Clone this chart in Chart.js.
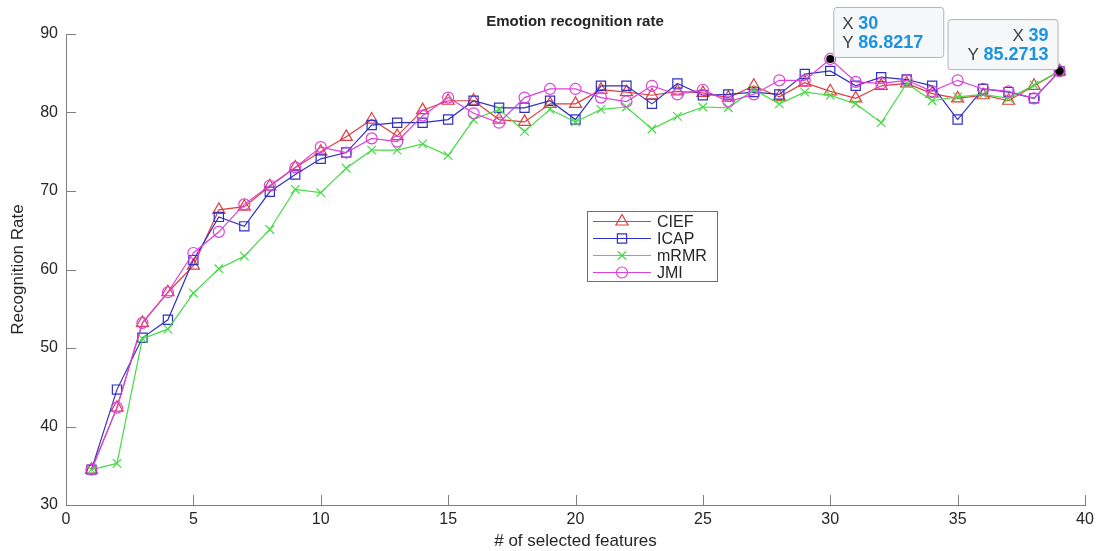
<!DOCTYPE html>
<html>
<head>
<meta charset="utf-8">
<title>Emotion recognition rate</title>
<script src="https://cdn.jsdelivr.net/npm/chart.js@4"></script>
<style>
    html, body { margin: 0; padding: 0; background: #fff; }
    #wrap { width: 1104px; height: 551px; }
</style>
</head>
<body>
<div id="wrap"><canvas id="rateChart" width="1104" height="551"></canvas></div>
<script>
// number of selected features (x) and recognition rate per method (y)
const featureCounts = [1, 2, 3, 4, 5, 6, 7, 8, 9, 10, 11, 12, 13, 14, 15, 16, 17, 18, 19, 20,
    21, 22, 23, 24, 25, 26, 27, 28, 29, 30, 31, 32, 33, 34, 35, 36, 37, 38, 39];
const ciefRates = [34.5, 42.4, 53.2, 57.1, 60.5, 67.6, 68.0, 70.6, 73.0, 75.0, 76.9, 79.1, 77.0, 80.3, 81.5, 81.5, 79.1, 78.8, 81.1, 81.1,
    82.9, 82.6, 82.2, 82.7, 82.5, 81.9, 83.4, 82.0, 83.8, 82.7, 81.8, 83.4, 83.7, 82.4, 81.8, 82.2, 81.5, 83.4, 85.2713];
const icapRates = [34.5, 44.7, 51.3, 53.6, 61.2, 66.7, 65.5, 69.9, 72.1, 74.1, 74.9, 78.4, 78.7, 78.7, 79.1, 81.5, 80.6, 80.6, 81.5, 79.1,
    83.4, 83.4, 81.1, 83.7, 82.2, 82.3, 82.6, 82.3, 84.9, 85.3, 83.4, 84.5, 84.2, 83.4, 79.1, 83.0, 82.6, 81.8, 85.2713];
const mrmrRates = [34.5, 35.3, 51.2, 52.4, 57.0, 60.1, 61.7, 65.1, 70.2, 69.8, 72.9, 75.2, 75.2, 76.0, 74.5, 79.1, 80.4, 77.6, 80.4, 78.8,
    80.4, 80.7, 77.9, 79.5, 80.7, 80.6, 82.9, 81.1, 82.6, 82.2, 81.1, 78.7, 83.7, 81.5, 82.0, 82.3, 81.8, 83.5, 85.2713];
const jmiRates = [34.5, 42.4, 53.2, 57.1, 62.1, 64.8, 68.3, 70.7, 73.0, 75.6, 74.9, 76.7, 76.3, 79.6, 81.9, 79.9, 78.7, 81.9, 83.0, 83.0,
    81.9, 81.4, 83.4, 82.3, 82.9, 81.4, 82.3, 84.1, 84.1, 86.8217, 83.9, 83.7, 84.1, 82.7, 84.1, 83.0, 82.7, 81.8, 85.2713];

const methodNames = ['CIEF', 'ICAP', 'mRMR', 'JMI'];
const xTicks = [0, 5, 10, 15, 20, 25, 30, 35, 40];
const yTicks = [30, 40, 50, 60, 70, 80, 90];

// data tips pinned on the plot: [x, y]
const dataTips = [[30, 86.8217], [39, 85.2713]];

const FONT = '"Liberation Sans", Arial, sans-serif';
const TEXT = '#262626';
const AXIS = '#7f7f7f';

const styles = [
    { color: '#e23c3c', marker: 'triangle', radius: 7 },
    { color: '#3030c4', marker: 'rect', radius: 6.5 },
    { color: '#45dc45', marker: 'crossRot', radius: 6 },
    { color: '#dd40dd', marker: 'circle', radius: 5.5 }
];
const seriesValues = [ciefRates, icapRates, mrmrRates, jmiRates];

function toPoints(values) {
    return featureCounts.map((x, i) => ({ x: x, y: values[i] }));
}

// small marker painter for the legend box
function drawMarker(ctx, style, x, y, r) {
    ctx.beginPath();
    if (style === 'triangle') {
        const h = r * 0.5;
        ctx.moveTo(x, y - r);
        ctx.lineTo(x + r * 0.866, y + h);
        ctx.lineTo(x - r * 0.866, y + h);
        ctx.closePath();
    } else if (style === 'rect') {
        const s = r * Math.SQRT1_2;
        ctx.rect(x - s, y - s, 2 * s, 2 * s);
    } else if (style === 'crossRot') {
        const s = r * Math.SQRT1_2;
        ctx.moveTo(x - s, y - s); ctx.lineTo(x + s, y + s);
        ctx.moveTo(x - s, y + s); ctx.lineTo(x + s, y - s);
    } else {
        ctx.arc(x, y, r, 0, Math.PI * 2);
    }
    ctx.stroke();
}

const decorations = {
    id: 'decorations',
    afterDatasetsDraw(chart) {
        const ctx = chart.ctx;
        const xs = chart.scales.x;
        const ys = chart.scales.y;
        const area = chart.chartArea;
        ctx.save();

        // inward tick marks
        ctx.strokeStyle = AXIS;
        ctx.lineWidth = 1;
        ctx.beginPath();
        xTicks.forEach(v => {
            const px = Math.round(xs.getPixelForValue(v)) + 0.5;
            ctx.moveTo(px, area.bottom);
            ctx.lineTo(px, area.bottom - 10);
        });
        yTicks.forEach(v => {
            const py = Math.round(ys.getPixelForValue(v)) + 0.5;
            ctx.moveTo(area.left, py);
            ctx.lineTo(area.left + 10, py);
        });
        ctx.stroke();

        // title and axis titles
        ctx.fillStyle = TEXT;
        ctx.textAlign = 'center';
        ctx.textBaseline = 'middle';
        ctx.font = 'bold 15px ' + FONT;
        ctx.fillText('Emotion recognition rate', 575, 22);
        ctx.font = '17px ' + FONT;
        ctx.fillText('# of selected features', (area.left + area.right) / 2, 541);
        ctx.save();
        ctx.translate(18, (area.top + area.bottom) / 2);
        ctx.rotate(-Math.PI / 2);
        ctx.fillText('Recognition Rate', 0, 0);
        ctx.restore();

        // legend box
        const lx = 587, ly = 211, lw = 130, lh = 70;
        ctx.fillStyle = '#fff';
        ctx.fillRect(lx, ly, lw, lh);
        ctx.strokeStyle = '#6f6f6f';
        ctx.lineWidth = 1;
        ctx.strokeRect(lx + 0.5, ly + 0.5, lw, lh);
        methodNames.forEach((name, i) => {
            const y = ly + 10.5 + i * 17;
            const st = styles[i];
            ctx.strokeStyle = st.color;
            ctx.lineWidth = 1.2;
            ctx.beginPath();
            ctx.moveTo(lx + 6, y);
            ctx.lineTo(lx + 64, y);
            ctx.stroke();
            drawMarker(ctx, st.marker, lx + 35, y, st.radius);
            ctx.fillStyle = TEXT;
            ctx.textAlign = 'left';
            ctx.font = '16px ' + FONT;
            ctx.fillText(name, lx + 70, y + 1);
        });

        // data tips
        dataTips.forEach((tip, i) => {
            const px = xs.getPixelForValue(tip[0]);
            const py = ys.getPixelForValue(tip[1]);
            ctx.fillStyle = '#000';
            ctx.beginPath();
            ctx.arc(px, py, 4, 0, Math.PI * 2);
            ctx.fill();

            const w = 110, h = 50;
            const bx = i === 0 ? px + 3 : px - w - 2;
            const by = py - h - 2;
            ctx.fillStyle = '#f6f7f9';
            ctx.strokeStyle = '#b4b4b4';
            ctx.lineWidth = 1;
            ctx.beginPath();
            ctx.roundRect(bx + 0.5, by + 0.5, w, h, 3);
            ctx.fill();
            ctx.stroke();

            const rows = [['X', String(tip[0])], ['Y', tip[1].toFixed(4)]];
            rows.forEach((row, r) => {
                const ty = by + 17 + r * 19;
                ctx.font = '17px ' + FONT;
                const labW = ctx.measureText(row[0] + ' ').width;
                ctx.font = 'bold 18px ' + FONT;
                const valW = ctx.measureText(row[1]).width;
                const tx = i === 0 ? bx + 9 : bx + w - 9 - valW - labW;
                ctx.textAlign = 'left';
                ctx.fillStyle = '#404040';
                ctx.font = '17px ' + FONT;
                ctx.fillText(row[0], tx, ty);
                ctx.fillStyle = '#1a94e0';
                ctx.font = 'bold 18px ' + FONT;
                ctx.fillText(row[1], tx + labW, ty);
            });
        });

        ctx.restore();
    }
};

const ctx = document.getElementById('rateChart').getContext('2d');
const rateChart = new Chart(ctx, {
    type: 'line',
    data: {
        datasets: methodNames.map((name, i) => ({
            label: name,
            data: toPoints(seriesValues[i]),
            borderColor: styles[i].color,
            backgroundColor: 'rgba(0,0,0,0)',
            borderWidth: 1.2,
            pointStyle: styles[i].marker,
            pointRadius: styles[i].radius,
            pointBorderColor: styles[i].color,
            pointBackgroundColor: 'rgba(0,0,0,0)',
            pointBorderWidth: 1.2,
            tension: 0,
            fill: false,
            order: 4 - i
        }))
    },
    options: {
        responsive: false,
        animation: false,
        devicePixelRatio: 1,
        events: [],
        layout: { padding: { left: 0, right: 19, top: 34, bottom: 0 } },
        plugins: {
            legend: { display: false },
            title: { display: false },
            tooltip: { enabled: false }
        },
        scales: {
            x: {
                type: 'linear',
                min: 0,
                max: 40,
                afterFit: s => { s.height = 46; },
                afterBuildTicks: s => { s.ticks = xTicks.map(v => ({ value: v })); },
                grid: { display: false, drawTicks: false },
                border: { display: true, color: AXIS, width: 1 },
                ticks: { color: TEXT, font: { family: FONT, size: 16 }, padding: 5, autoSkip: false, maxRotation: 0 }
            },
            y: {
                type: 'linear',
                min: 30,
                max: 90,
                afterFit: s => { s.width = 66; },
                afterBuildTicks: s => { s.ticks = yTicks.map(v => ({ value: v })); },
                grid: { display: false, drawTicks: false },
                border: { display: true, color: AXIS, width: 1 },
                ticks: { color: TEXT, font: { family: FONT, size: 16 }, padding: 8 }
            }
        }
    },
    plugins: [decorations]
});
</script>
</body>
</html>
